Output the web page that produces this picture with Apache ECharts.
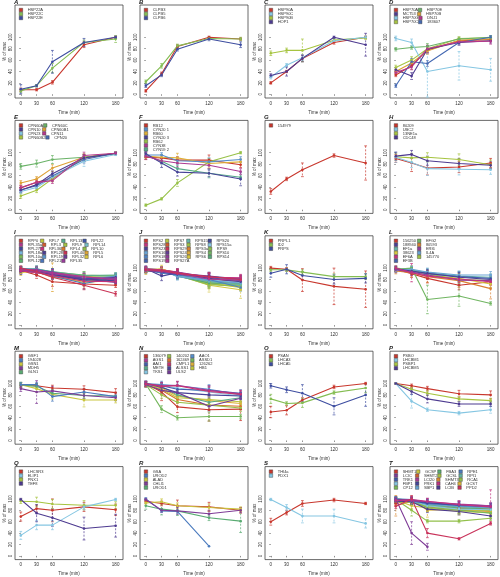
<!DOCTYPE html>
<html><head><meta charset="utf-8">
<script src="https://cdn.jsdelivr.net/npm/echarts@6/dist/echarts.min.js"></script>
<style>html,body{margin:0;padding:0;background:#fff}#c{width:500px;height:577px}</style>
</head><body><div id="c"></div>
<script>
const times = [0, 30, 60, 120, 180];
const xTicks = [0, 30, 60, 120, 180];
const yTicks = [0, 20, 40, 60, 80, 100];

const namesA = ['HSP22A','HSP22C','HSP22E'];
const valsA = [[8,8,21,87,100],[6,15,46,91,97],[9,15,57,91,100]];
const errsA = [[3,2,3,5,2],[3,2,8,4,6],[8,2,20,7,2]];

const namesB = ['CLPB3','CLPB5','CLPB6'];
const valsB = [[6,36,84,100,97],[22,50,85,98,97],[15,34,79,97,87]];
const errsB = [[2,3,3,2,2],[3,4,3,2,3],[3,3,3,3,5]];

const namesC = ['HSP90A','HSP90B','HSP90C','HOP1'];
const valsC = [[20,40,63,91,100],[72,77,77,95,99],[30,51,64,94,100],[33,40,63,100,87]];
const errsC = [[2,2,5,3,2],[4,4,20,3,3],[3,3,5,3,2],[3,8,6,2,20]];

const namesD = ['HSP70A','HSP70B','HSP70C','HSP70E','HSP70G','183607','MCT53','DNJ1'];
const valsD = [[34,50,78,94,96],[40,55,76,95,97],[47,60,80,98,99],[79,82,84,97,100],[98,91,40,50,43],[15,57,54,91,100],[43,32,79,91,94],[38,48,80,92,93]];
const errsD = [[3,6,6,3,3],[4,6,6,3,3],[4,6,6,3,3],[3,3,5,3,3],[4,6,45,25,20],[3,6,5,3,3],[4,6,6,5,4],[4,5,6,3,5]];

const namesE = ['CPN60A','CPN60B1','CPN60B2','CPN60C','CPN23','CPN20','CPN10','CPN11'];
const valsE = [[38,48,55,91,99],[47,54,73,92,99],[24,34,54,91,99],[76,81,88,92,98],[32,39,57,85,97],[35,42,59,88,99],[34,44,63,91,99],[39,48,51,95,99]];
const errsE = [[4,4,5,6,2],[4,4,6,6,2],[4,4,5,6,2],[5,6,7,3,2],[4,4,5,9,2],[4,4,5,6,2],[4,4,5,6,2],[4,4,5,6,2]];

const namesF = ['RB12','RB60','RB62','CYN59 2','CYN20 1','CYN20 3','CYN38'];
const valsF = [[92,91,87,87,79],[94,92,91,81,84],[8,19,47,84,100],[95,85,72,64,57],[96,96,86,84,88],[98,82,66,64,54],[94,86,82,78,67]];
const errsF = [[4,5,6,9,5],[5,5,8,8,5],[2,2,6,6,2],[4,5,6,8,4],[4,4,6,7,5],[4,8,7,6,12],[6,5,7,6,5]];

const namesG = ['154979'];
const valsG = [[32,54,70,95,82]];
const errsG = [[5,3,12,3,30]];

const namesH = ['80209','13NE1a','UBC2','CDC48'];
const valsH = [[90,82,73,75,82],[93,91,92,88,79],[92,83,72,71,70],[94,97,86,81,78]];
const errsH = [[7,15,12,10,8],[6,8,8,10,8],[9,9,12,10,8],[7,7,8,9,6]];

const namesI = ['RPP0','RPL3','RPL4','RPL5','RPL6','RPL7','RPL9','RPL10','RPL10a','RPL12','RPL13','RPL14','RPL18a','RPL19','RPL21','RPL22','RPL27','RPL28','RPL32','RPL35','RPL35a','RPL36','RPL40'];
const valsI = [[96,88,76,72,70],[95,92,88,80,77],[97,95,90,85,82],[98,93,84,78,80],[92,96,86,75,79],[99,97,91,84,85],[96,94,89,82,84],[95,97,92,86,87],[98,99,93,88,86],[97,95,87,80,82],[99,98,94,87,88],[96,92,88,83,85],[100,96,90,84,81],[97,99,92,78,86],[95,93,86,73,83],[99,97,93,82,80],[98,95,89,80,78],[94,96,88,79,84],[97,94,91,81,75],[96,95,90,84,82],[98,97,92,85,79],[95,92,87,77,76],[100,94,84,70,55]];
const errsI = [[4,6,8,8,4],[4,5,6,6,5],[3,5,5,6,4],[5,4,25,8,5],[5,6,6,7,5],[4,5,6,6,5],[4,4,5,6,5],[3,5,6,7,4],[4,5,6,6,5],[5,5,6,7,5],[4,4,5,6,4],[4,5,6,6,5],[3,5,6,7,5],[4,5,6,6,5],[5,4,6,10,6],[4,5,6,6,5],[4,5,6,7,5],[5,5,6,6,5],[4,5,6,7,5],[4,5,5,6,5],[4,5,6,6,5],[4,6,6,7,5],[4,5,8,8,4]];

const namesJ = ['RPS2','RPS3','RPS3a','RPS4','RPS6','RPS7','RPS8','RPS9','RPS10','RPS14','RPS15','RPS15a','RPS16','RPS18','RPS19','RPS20','RPS23','RPS24','RPS26','RPS27A','RPS28','RPS29'];
const valsJ = [[98,97,93,80,77],[96,98,91,76,74],[99,96,92,74,71],[94,95,90,72,68],[97,99,88,70,62],[98,96,89,73,66],[96,94,91,75,70],[99,97,87,71,69],[95,93,90,77,73],[97,95,86,74,72],[98,96,88,76,71],[96,94,87,79,75],[99,97,85,78,74],[97,91,88,80,66],[98,95,90,83,78],[96,93,89,85,80],[99,86,92,82,76],[97,95,91,86,81],[98,96,93,84,82],[96,94,90,81,79],[99,97,92,84,83],[97,96,91,85,80]];
const errsJ = [[4,5,6,7,6],[4,5,6,7,6],[3,5,6,7,6],[5,6,6,8,6],[4,6,6,12,15],[4,5,6,7,6],[4,5,5,7,6],[3,5,6,7,6],[4,5,6,8,6],[4,5,6,7,6],[4,5,6,7,6],[4,4,6,7,6],[3,5,6,7,6],[4,5,6,8,6],[4,5,6,7,6],[4,5,6,7,6],[5,8,6,8,6],[4,5,6,7,6],[4,5,6,7,6],[4,5,6,7,6],[4,5,6,7,6],[4,5,6,7,6]];

const namesK = ['PRPL1','ID2','PRPS'];
const valsK = [[100,98,79,68,63],[97,97,93,85,85],[91,98,87,80,82]];
const errsK = [[3,3,20,32,32],[3,3,4,5,5],[7,8,7,8,8]];

const namesL = ['156250','80593','38623','145770','EFG2','EF1a','IL4A','EF3B','188940','ERI6','EF6A'];
const valsL = [[98,90,82,70,76],[95,92,85,78,64],[97,95,88,82,72],[100,97,90,80,78],[98,100,45,51,38],[99,97,92,86,84],[96,98,93,88,88],[98,94,90,85,82],[99,95,91,84,80],[97,93,88,79,78],[100,92,86,81,76]];
const errsL = [[4,6,8,8,6],[5,8,10,12,18],[4,6,7,8,6],[4,5,6,7,6],[3,4,25,18,3],[4,6,7,8,6],[4,5,7,7,6],[4,6,7,8,6],[4,5,6,8,6],[4,6,7,8,6],[4,16,6,6,5]];

const namesM = ['GSF1','GSN1','GLN1','194028','MDH5'];
const valsM = [[97,96,92,90,84],[98,91,81,71,71],[98,95,83,79,78],[98,98,77,85,77],[91,85,87,79,75]];
const errsM = [[4,4,5,6,7],[4,6,8,12,5],[4,5,6,5,6],[4,4,8,6,7],[5,20,8,6,5]];

const namesN = ['136079','162469','126262','HB1','140202','ASSD1','METE','TKS1','AAO1','AAI1','ALSS1','ULS2','AGS1','CMPL1'];
const valsN = [[100,85,59,54,55],[97,88,72,62,60],[98,92,78,70,65],[99,90,75,72,68],[98,80,67,62,57],[99,55,40,42,42],[100,95,80,67,75],[98,96,92,85,78],[100,98,96,90,80],[99,96,90,88,83],[100,93,84,80,78],[98,88,84,60,74],[100,96,97,88,82],[99,95,96,86,81]];
const errsN = [[4,15,10,20,20],[4,6,7,8,6],[4,6,7,8,6],[4,6,7,8,6],[4,6,7,8,6],[3,6,4,8,4],[4,6,7,8,6],[4,6,7,8,6],[4,6,7,8,6],[4,6,7,8,6],[4,6,7,8,6],[4,6,7,8,6],[4,6,7,8,6],[4,6,7,8,6]];

const namesO = ['PSAN','LHCA3','LHCA5'];
const valsO = [[50,53,71,94,100],[73,65,66,84,92],[96,89,83,60,80]];
const errsO = [[10,8,4,3,2],[8,3,8,3,8],[4,5,15,15,20]];

const namesP = ['PSBO','PSBP1','LHCBM1','LHCBM5'];
const valsP = [[100,96,91,82,80],[100,90,83,73,70],[100,69,54,48,54],[100,86,73,64,64]];
const errsP = [[1,3,4,6,7],[1,4,4,4,4],[1,12,3,3,6],[1,5,7,4,4]];

const namesQ = ['LHCSR3','PNX1','ELIP1','TEF8'];
const valsQ = [[69,83,80,86,81],[96,95,91,89,89],[36,54,54,86,99],[99,75,67,48,53]];
const errsQ = [[8,6,20,8,10],[4,8,8,8,6],[7,8,8,5,2],[2,15,15,20,20]];

const namesR = ['GSA','ALAD','UROD1','UROD2','CHLI1'];
const valsR = [[96,92,88,86,80],[93,95,88,85,82],[88,82,79,67,61],[100,79,78,17,null],[99,80,79,74,80]];
const errsR = [[4,4,10,8,5],[4,5,5,6,4],[6,10,8,5,20],[2,3,3,0,0],[2,3,6,6,4]];

const namesS = ['THI4a','PDX1'];
const valsS = [[60,76,92,98,92],[99,85,70,70,57]];
const errsS = [[6,4,5,3,2],[2,5,12,12,8]];

const namesT = ['SHMT1','SHMT2','SHMT3','GCST','GCSP','GCSL','RCA1','CP12','FBA3','RPI1','FBP1','SBP1','RPE1','TRK1','PRK1','LCIB','LCIC','LCI20','CAH4','PPD2'];
const valsT = [[92,98,88,83,80],[95,97,90,85,82],[88,96,86,80,78],[97,99,80,82,79],[98,88,84,78,76],[96,94,87,81,80],[99,80,61,61,66],[97,95,85,80,75],[100,97,89,84,82],[98,95,90,86,84],[99,98,88,82,81],[97,96,91,87,85],[100,99,94,88,86],[98,97,92,89,87],[99,98,93,90,88],[96,95,82,78,70],[100,40,16,null,null],[98,97,95,91,88],[97,99,96,90,86],[87,100,40,30,57]];
const errsT = [[4,5,6,6,5],[4,5,6,6,5],[18,6,8,5,5],[5,6,12,8,10],[4,5,6,6,5],[4,5,6,6,5],[4,10,3,3,4],[4,5,6,6,5],[4,5,6,6,5],[4,5,6,6,5],[4,5,6,6,5],[4,5,6,6,5],[4,5,6,6,5],[4,5,6,6,5],[4,5,6,6,5],[4,5,6,6,5],[3,20,6,0,0],[4,5,6,6,5],[4,5,5,6,30],[4,6,8,2,3]];

const panels = [
  {id:'A', names:namesA, vals:valsA, errs:errsA, ncol:1},
  {id:'B', names:namesB, vals:valsB, errs:errsB, ncol:1},
  {id:'C', names:namesC, vals:valsC, errs:errsC, ncol:2},
  {id:'D', names:namesD, vals:valsD, errs:errsD, ncol:3},
  {id:'E', names:namesE, vals:valsE, errs:errsE, ncol:3},
  {id:'F', names:namesF, vals:valsF, errs:errsF, ncol:2},
  {id:'G', names:namesG, vals:valsG, errs:errsG, ncol:1},
  {id:'H', names:namesH, vals:valsH, errs:errsH, ncol:2},
  {id:'I', names:namesI, vals:valsI, errs:errsI, ncol:5},
  {id:'J', names:namesJ, vals:valsJ, errs:errsJ, ncol:5},
  {id:'K', names:namesK, vals:valsK, errs:errsK, ncol:1},
  {id:'L', names:namesL, vals:valsL, errs:errsL, ncol:3},
  {id:'M', names:namesM, vals:valsM, errs:errsM, ncol:2},
  {id:'N', names:namesN, vals:valsN, errs:errsN, ncol:4},
  {id:'O', names:namesO, vals:valsO, errs:errsO, ncol:1},
  {id:'P', names:namesP, vals:valsP, errs:errsP, ncol:2},
  {id:'Q', names:namesQ, vals:valsQ, errs:errsQ, ncol:2},
  {id:'R', names:namesR, vals:valsR, errs:errsR, ncol:2},
  {id:'S', names:namesS, vals:valsS, errs:errsS, ncol:1},
  {id:'T', names:namesT, vals:valsT, errs:errsT, ncol:5}
];

const FONT = '"Liberation Sans", Arial, sans-serif';
const TXT = '#333';
const anchors = [[0,'#c8372d'],[30,'#d9792f'],[60,'#e0c63c'],[90,'#a6c440'],[120,'#84bd52'],[150,'#4ea77a'],[180,'#85c6e2'],[210,'#4f86c6'],[240,'#3d4da0'],[270,'#4d3a90'],[300,'#a03d9c'],[330,'#c9307a'],[360,'#c8372d']];
function hex2rgb(h){return [parseInt(h.slice(1,3),16),parseInt(h.slice(3,5),16),parseInt(h.slice(5,7),16)];}
function hueColor(h){
  for(let a=0;a<anchors.length-1;a++){
    const [h0,c0]=anchors[a],[h1,c1]=anchors[a+1];
    if(h>=h0&&h<=h1){const t=(h-h0)/(h1-h0);const p=hex2rgb(c0),q=hex2rgb(c1);
      return 'rgb('+p.map((v,i)=>Math.round(v+(q[i]-v)*t)).join(',')+')';}
  }
  return anchors[0][1];
}
function rowMajor(names,ncol){
  const nrow=Math.ceil(names.length/ncol);const out=[];
  for(let r=0;r<nrow;r++)for(let c=0;c<ncol;c++){const k=c*nrow+r;if(k<names.length)out.push(names[k]);}
  return out;
}
function errRender(params, api){
  const x=api.value(0), y=api.value(1), e=api.value(2);
  const top=api.coord([x,y+e]), bot=api.coord([x,y-e]);
  const col=api.visual('color'); const w=1.4;
  return {type:'group',children:[
    {type:'line',shape:{x1:top[0],y1:top[1],x2:bot[0],y2:bot[1]},style:{stroke:col,lineWidth:0.7,lineDash:[2,1.5]}},
    {type:'line',shape:{x1:top[0]-w,y1:top[1],x2:top[0]+w,y2:top[1]},style:{stroke:col,lineWidth:0.7}},
    {type:'line',shape:{x1:bot[0]-w,y1:bot[1],x2:bot[0]+w,y2:bot[1]},style:{stroke:col,lineWidth:0.7}}
  ]};
}

const option = {animation:false, backgroundColor:'#fff', grid:[], xAxis:[], yAxis:[], legend:[], series:[], graphic:[]};
panels.forEach((p,i)=>{
  const r=Math.floor(i/4), c=i%4;
  const L=15+125*c, T=5+115.4*r, W=108, H=93;
  option.grid.push({left:L,top:T,width:W,height:H,show:true,borderColor:'#444',borderWidth:0.8,backgroundColor:'transparent',outerBoundsMode:'none'});
  option.xAxis.push({gridIndex:i,type:'value',min:-11,max:194,name:'Time (min)',nameLocation:'middle',nameGap:12,
    nameTextStyle:{fontSize:4.5,color:TXT,fontFamily:FONT},axisLine:{show:false},splitLine:{show:false},
    axisTick:{show:true,length:1.5,customValues:xTicks,lineStyle:{color:'#444',width:0.6}},
    axisLabel:{customValues:xTicks,fontSize:4.5,margin:3,color:TXT,fontFamily:FONT}});
  option.yAxis.push({gridIndex:i,type:'value',min:-6.5,max:156.7,name:'% of max',nameLocation:'middle',nameGap:8,nameRotate:90,
    nameTextStyle:{fontSize:4.5,color:TXT,fontFamily:FONT},axisLine:{show:false},splitLine:{show:false},
    axisTick:{show:true,length:1.5,customValues:yTicks,lineStyle:{color:'#444',width:0.6}},
    axisLabel:{customValues:yTicks,rotate:90,fontSize:4.5,margin:2,color:TXT,fontFamily:FONT}});
  const pitch = p.ncol>=5 ? 21 : 23;
  option.legend.push({left:L+4,top:T+3,orient:'horizontal',width:p.ncol*pitch,padding:0,itemGap:0,itemWidth:3.5,itemHeight:3.5,
    icon:'rect',selectedMode:false,data:rowMajor(p.names,p.ncol),
    itemStyle:{borderColor:'#333',borderWidth:0.4},
    textStyle:{fontSize:4,lineHeight:4,width:pitch-8.5,color:TXT,fontFamily:FONT}});
  const n=p.names.length;
  p.names.forEach((nm,k)=>{
    const col=hueColor(360*k/n);
    option.series.push({type:'custom',name:nm,xAxisIndex:i,yAxisIndex:i,silent:true,clip:true,z:1,
      itemStyle:{color:col},renderItem:errRender,encode:{x:0,y:1},
      data:times.map((t,j)=>[t,p.vals[k][j],p.errs[k][j]]).filter(d=>d[1]!=null&&d[2]>0)});
    option.series.push({type:'line',name:nm,xAxisIndex:i,yAxisIndex:i,z:2,
      symbol:'circle',symbolSize:2.6,itemStyle:{color:col},lineStyle:{color:col,width:1.1},
      data:times.map((t,j)=>[t,p.vals[k][j]]).filter(d=>d[1]!=null)});
  });
  option.graphic.push({type:'text',x:L-1,y:T-3,style:{text:p.id,font:'italic bold 6px '+FONT,fill:'#222',verticalAlign:'middle'}});
});
const chart = echarts.init(document.getElementById('c'), null, {renderer:'canvas'});
chart.setOption(option);
</script></body></html>
